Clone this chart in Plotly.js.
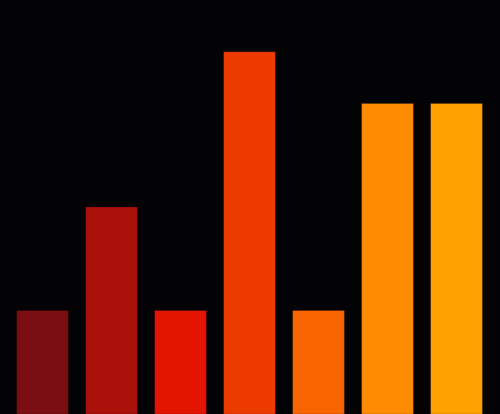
<!DOCTYPE html>
<html>
<head>
<meta charset="utf-8">
<script src="https://cdn.plot.ly/plotly-3.0.1.min.js"></script>
<style>html,body{margin:0;padding:0;background:#030305;}#chart{width:500px;height:414px;}</style>
</head>
<body>
<div id="chart"></div>
<script>
var categories = ["A", "B", "C", "D", "E", "F", "G"];
var values = [2, 4, 2, 7, 2, 6, 6];
var colors = ["#7a0e10", "#ab100a", "#e31400", "#ed3b00", "#f86400", "#ff8c00", "#ffa100"];

var trace = {
  type: "bar",
  x: categories,
  y: values,
  marker: {color: colors, line: {color: "rgba(0,0,0,0.18)", width: 1}},
  hoverinfo: "none"
};

var layout = {
  width: 500,
  height: 414,
  margin: {l: 8, r: 9, t: 0, b: 0, pad: 0},
  paper_bgcolor: "#030305",
  plot_bgcolor: "#030305",
  bargap: 0.25,
  showlegend: false,
  xaxis: {visible: false, range: [-0.5, 6.5], type: "category"},
  yaxis: {visible: false, range: [0, 8]}
};

Plotly.newPlot("chart", [trace], layout, {displayModeBar: false, staticPlot: true});
</script>
</body>
</html>
